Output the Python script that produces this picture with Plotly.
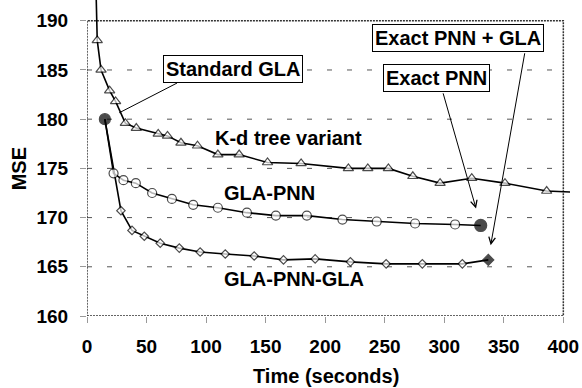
import plotly.graph_objects as go

# ---- data ----
kd_time = [7.2, 8.6, 11.8, 19.0, 24.0, 32.2, 41.4, 59.8, 67.6, 78.9, 92.8, 109.9, 127.8,
           151.6, 179.8, 219.5, 235.8, 253.1, 273.6, 296.5, 323.1, 351.0, 386.0, 406.0]
kd_mse = [195.0, 188.0, 185.0, 182.9, 181.8, 179.6, 179.1, 178.5, 178.3, 177.6, 177.3, 176.4, 176.4,
          175.6, 175.5, 175.0, 175.0, 175.0, 174.2, 173.5, 174.0, 173.5, 172.7, 172.6]

pnn_time = [15.0, 22.3, 30.6, 41.0, 54.7, 71.3, 89.2, 109.9, 134.3, 158.6, 184.6, 214.5, 243.3,
            275.5, 309.1, 330.6]
pnn_mse = [180.0, 174.5, 173.8, 173.5, 172.5, 171.9, 171.3, 171.0, 170.5, 170.2, 170.2, 169.8, 169.6,
           169.4, 169.3, 169.2]

gpg_time = [15.0, 28.5, 37.8, 48.1, 61.5, 77.5, 95.0, 116.1, 140.4, 165.0, 191.6, 221.2, 251.2,
            281.6, 315.2, 337.0]
gpg_mse = [180.0, 170.7, 168.7, 168.1, 167.4, 166.9, 166.5, 166.3, 166.1, 165.7, 165.8, 165.5, 165.3,
           165.3, 165.3, 165.7]

x_ticks = [0, 50, 100, 150, 200, 250, 300, 350, 400]
y_ticks = [160, 165, 170, 175, 180, 185, 190]
grid_levels = [165, 170, 175, 180, 185]

FONT = "Liberation Sans, Arial, Helvetica, sans-serif"

fig = go.Figure()

# K-d tree variant (open triangles); first/last points only carry the line beyond the frame
n = len(kd_time)
kd_sizes = [0] + [9] * (n - 2) + [0]
kd_lw = [0] + [1.2] * (n - 2) + [0]
fig.add_trace(go.Scatter(
    x=kd_time, y=kd_mse, mode="lines+markers",
    line=dict(color="black", width=1.6),
    marker=dict(symbol="triangle-up", size=kd_sizes, color="white",
                line=dict(color="black", width=kd_lw)),
    showlegend=False, hoverinfo="skip"))

# GLA-PNN-GLA (open diamonds, final point filled)
n = len(gpg_time)
fig.add_trace(go.Scatter(
    x=gpg_time, y=gpg_mse, mode="lines+markers",
    line=dict(color="black", width=1.6),
    marker=dict(symbol="diamond", size=[0] + [6.5] * (n - 2) + [8.5],
                color=["white"] * (n - 1) + ["black"],
                line=dict(color="black", width=[0] + [1.2] * (n - 1))),
    showlegend=False, hoverinfo="skip"))

# GLA-PNN (open circles, start and end filled)
n = len(pnn_time)
fig.add_trace(go.Scatter(
    x=pnn_time, y=pnn_mse, mode="lines+markers",
    line=dict(color="black", width=1.6),
    marker=dict(symbol="circle", size=[11] + [9] * (n - 2) + [12],
                color=["black"] + ["white"] * (n - 2) + ["black"],
                line=dict(color="black", width=1.2)),
    showlegend=False, hoverinfo="skip"))

shapes = []
for g in grid_levels:
    shapes.append(dict(type="line", xref="x", yref="y", x0=0, x1=400, y0=g, y1=g,
                       line=dict(color="#555", width=1, dash="5px,15px"), layer="below"))
shapes.append(dict(type="rect", xref="x", yref="y", x0=0, x1=400, y0=160, y1=190,
                   line=dict(color="#333", width=1.5, dash="2px,1px"), layer="below"))
# leader line from "Standard GLA" box
shapes.append(dict(type="line", xref="x", yref="y", x0=75.6, y0=183.67, x1=27.1, y1=180.65,
                   line=dict(color="black", width=1)))

annotations = []
box_font = dict(family=FONT, size=20, color="black", weight="bold")
for txt, ax_, ay_ in [("Standard GLA", 122.2, 185.06),
                      ("Exact PNN + GLA", 311.6, 188.29),
                      ("Exact PNN", 293.3, 184.15)]:
    annotations.append(dict(x=ax_, y=ay_, xref="x", yref="y", text=txt, showarrow=False,
                            font=box_font, bgcolor="white", bordercolor="black",
                            borderwidth=1, borderpad=2, xanchor="center", yanchor="middle"))
for txt, ax_, ay_ in [("K-d tree variant", 169.6, 178.05),
                      ("GLA-PNN", 153.0, 172.46),
                      ("GLA-PNN-GLA", 173.7, 163.73)]:
    annotations.append(dict(x=ax_, y=ay_, xref="x", yref="y", text=txt, showarrow=False,
                            font=box_font, xanchor="center", yanchor="middle"))
# arrows
for tx, ty, hx, hy in [(298.7, 182.78, 326.7, 170.93), (367.8, 186.85, 339.0, 167.20)]:
    annotations.append(dict(x=hx, y=hy, xref="x", yref="y", ax=tx, ay=ty, axref="x", ayref="y",
                            text="", showarrow=True, arrowhead=5, arrowsize=1.3,
                            arrowwidth=1, arrowcolor="black", standoff=0, startstandoff=0))
# axis titles
annotations.append(dict(x=-0.1408, y=0.4674, xref="paper", yref="paper", text="MSE",
                        textangle=-90, showarrow=False, font=box_font,
                        xanchor="center", yanchor="middle"))
annotations.append(dict(x=0.4948, y=-0.1899, xref="paper", yref="paper", text="Time (seconds)",
                        showarrow=False, font=box_font, xanchor="center", yanchor="middle"))

tick_font = dict(family=FONT, size=19, color="black", weight="bold")
fig.update_layout(
    width=582, height=388,
    margin=dict(l=87, r=12, t=0, b=72, autoexpand=False),
    paper_bgcolor="white", plot_bgcolor="white",
    shapes=shapes, annotations=annotations,
    xaxis=dict(range=[0, 405.6], tickvals=x_ticks, ticks="outside", ticklen=6,
               tickcolor="#999", showgrid=False, zeroline=False, showline=False,
               tickfont=tick_font, automargin=False, ticklabelstandoff=7),
    yaxis=dict(range=[160, 192.11], tickvals=y_ticks, ticks="outside", ticklen=6,
               tickcolor="#999", showgrid=False, zeroline=False, showline=False,
               tickfont=tick_font, automargin=False, ticklabelstandoff=8),
)

fig.write_html("out.html", config={"displayModeBar": False},
               post_script="document.body.style.margin='0px';")
